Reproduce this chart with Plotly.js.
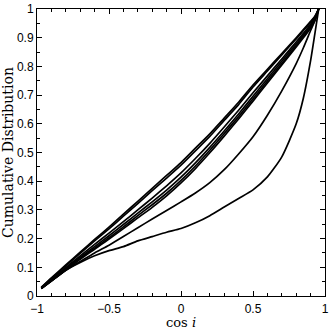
<!DOCTYPE html>
<html>
<head>
<meta charset="utf-8">
<script src="https://cdn.plot.ly/plotly-3.0.1.min.js"></script>
<style>
  html, body { margin: 0; padding: 0; background: #fff; }
  #chart { width: 332px; height: 330px; }
</style>
</head>
<body>
<div id="chart"></div>
<script>
// cos i sample points shared by every curve
var cosI = [-0.97, -0.9, -0.8, -0.7, -0.6, -0.5, -0.4, -0.3, -0.2, -0.1, 0,
  0.1, 0.2, 0.3, 0.4, 0.5, 0.6, 0.7, 0.8, 0.85, 0.9, 0.93, 0.956];

// the bundle of six near-uniform curves
var cdfA = [0.030, 0.063, 0.108, 0.153, 0.197, 0.240, 0.285, 0.330, 0.375, 0.420, 0.465,
  0.515, 0.565, 0.620, 0.675, 0.735, 0.790, 0.845, 0.900, 0.928, 0.957, 0.975, 1];
var cdfB = [0.030, 0.061, 0.105, 0.149, 0.192, 0.234, 0.278, 0.322, 0.367, 0.411, 0.456,
  0.506, 0.556, 0.612, 0.667, 0.728, 0.784, 0.840, 0.896, 0.925, 0.954, 0.973, 1];
var cdfC = [0.028, 0.058, 0.099, 0.140, 0.180, 0.219, 0.259, 0.300, 0.341, 0.384, 0.429,
  0.479, 0.532, 0.589, 0.647, 0.708, 0.767, 0.826, 0.885, 0.915, 0.947, 0.969, 1];
var cdfD = [0.027, 0.055, 0.095, 0.135, 0.172, 0.210, 0.249, 0.289, 0.328, 0.369, 0.414,
  0.464, 0.518, 0.575, 0.634, 0.696, 0.757, 0.818, 0.878, 0.909, 0.942, 0.966, 1];
var cdfE = [0.026, 0.053, 0.092, 0.131, 0.167, 0.203, 0.241, 0.280, 0.318, 0.358, 0.403,
  0.453, 0.508, 0.566, 0.625, 0.687, 0.749, 0.810, 0.872, 0.904, 0.936, 0.963, 1];
var cdfF = [0.026, 0.052, 0.090, 0.128, 0.163, 0.198, 0.235, 0.272, 0.309, 0.349, 0.394,
  0.444, 0.499, 0.557, 0.617, 0.679, 0.742, 0.805, 0.868, 0.900, 0.933, 0.960, 1];
// the two outliers bending away from the bundle
var cdfG = [0.027, 0.053, 0.090, 0.120, 0.150, 0.177, 0.207, 0.238, 0.268, 0.298, 0.328,
  0.359, 0.395, 0.440, 0.495, 0.555, 0.630, 0.715, 0.810, 0.865, 0.925, 0.960, 1];
var cdfH = [0.027, 0.053, 0.090, 0.117, 0.140, 0.158, 0.172, 0.192, 0.207, 0.222, 0.235,
  0.255, 0.280, 0.310, 0.340, 0.370, 0.415, 0.485, 0.600, 0.690, 0.820, 0.915, 1];

var curves = [cdfA, cdfB, cdfC, cdfD, cdfE, cdfF, cdfG, cdfH];

var xTicks = [-1, -0.5, 0, 0.5, 1];
var yTicks = [0, 0.1, 0.2, 0.3, 0.4, 0.5, 0.6, 0.7, 0.8, 0.9, 1];

var data = curves.map(function (c) {
  return {
    type: 'scatter',
    mode: 'lines',
    x: cosI,
    y: c,
    line: {color: '#000', width: 1.7, shape: 'spline', smoothing: 0.6},
    hoverinfo: 'skip'
  };
});

var tickFont = {family: 'Liberation Sans, Arial, sans-serif', size: 12, color: '#000'};
var titleFont = {family: 'DejaVu Serif, serif', size: 14, color: '#000'};

var layout = {
  width: 332,
  height: 330,
  margin: {l: 37, r: 7, t: 9, b: 34, pad: 0},
  paper_bgcolor: '#fff',
  plot_bgcolor: '#fff',
  showlegend: false,
  xaxis: {
    range: [-1, 1],
    tickvals: xTicks,
    ticktext: xTicks.map(function (v) { return v < 0 ? '\u2212' + Math.abs(v) : String(v); }),
    ticks: 'inside',
    ticklen: 5,
    tickcolor: '#000',
    ticklabelstandoff: 2,
    minor: {dtick: 0.1, ticks: 'inside', ticklen: 3, tickcolor: '#000'},
    showline: true,
    linecolor: '#000',
    linewidth: 1,
    mirror: 'ticks',
    showgrid: false,
    zeroline: false,
    tickfont: tickFont,
    title: {text: 'cos <i>i</i>', font: {family: 'DejaVu Serif, serif', size: 13, color: '#000'}, standoff: 5}
  },
  yaxis: {
    range: [0, 1],
    tickvals: yTicks,
    ticks: 'inside',
    ticklen: 5,
    tickcolor: '#000',
    minor: {dtick: 0.05, ticks: 'inside', ticklen: 3, tickcolor: '#000'},
    showline: true,
    linecolor: '#000',
    linewidth: 1,
    mirror: 'ticks',
    showgrid: false,
    zeroline: false,
    tickfont: tickFont,
    title: {text: 'Cumulative Distribution', font: titleFont, standoff: 6}
  }
};

Plotly.newPlot('chart', data, layout, {displayModeBar: false, staticPlot: true});
</script>
</body>
</html>
